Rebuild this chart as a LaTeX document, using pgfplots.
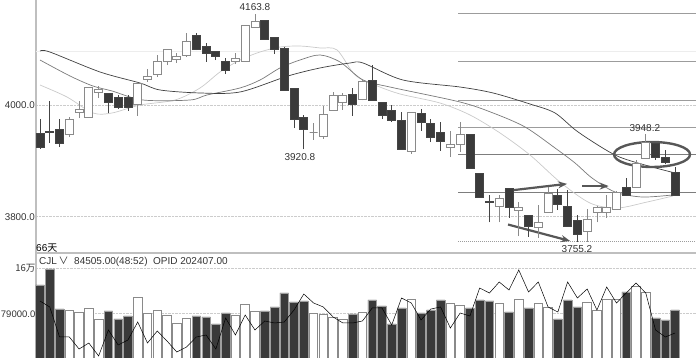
\documentclass[border=0pt]{standalone}
\usepackage{pgfplots}
\pgfplotsset{compat=1.18}
\usepackage{pgfplotstable}
\usepackage{fontspec}
\setmainfont{Liberation Sans}
\newfontfamily\cjk{Noto Sans CJK SC}
\usetikzlibrary{arrows.meta}
\definecolor{cdark}{HTML}{3A3A3A}
\definecolor{cwick}{HTML}{444444}
\definecolor{cgray}{HTML}{8A8A8A}
\definecolor{madark}{HTML}{404040}
\definecolor{mamid}{HTML}{7A7A7A}
\definecolor{malight}{HTML}{CACACA}
\definecolor{fib}{HTML}{9C9C9C}
\definecolor{anno}{HTML}{575757}
\definecolor{txt}{HTML}{333333}
\newcommand\pxs{0.55715}
\pgfdeclareplotmark{candle}{%
  \pgfpathmoveto{\pgfpoint{0pt}{\wl pt}}%
  \pgfpathlineto{\pgfpoint{0pt}{\wh pt}}%
  \pgfusepathqstroke
  \pgfpathrectangle{\pgfpoint{-4pt}{-\bh pt}}{\pgfpoint{8pt}{2*\bh pt}}%
  \pgfusepathqfillstroke}

\pgfplotstableread{
i o h l c
1 3950 3975 3922 3925
2 3953 4008 3932 3951
3 3956 3975 3925 3931
8 4022 4022 3986 4006
9 4015 4018 3993 3997
10 4015 4018 3990 3997
17 4126 4130 4099 4101
18 4105 4112 4078 4094
19 4096 4097 4081 4087
20 4078 4085 4056 4063
24 4153 4153 4119 4119
25 4121 4123 4092 4101
26 4103 4105 4026 4026
27 4031 4031 3959 3975
28 3979 3983 3920.8 3956
33 4020 4031 3981 4001
35 4044 4072 4008 4008
36 4006 4006 3975 3981
37 3990 4000 3970 3972
38 3972 3988 3920 3920
40 3986 3993 3954 3970
41 3968 3975 3934 3943
42 3952 3970 3918 3936
45 3947 3947 3886 3886
46 3878 3878 3835 3835
47 3828 3839 3790 3825
49 3850 3852 3798 3816
51 3803 3803 3764 3782
54 3839 3850 3812 3823
55 3819 3848 3782 3782
56 3794 3803 3755.2 3769
61 3852 3870 3839 3839
64 3932 3932 3902 3907
65 3907 3920 3895 3898
66 3880 3889 3839 3839
}\darkc

\pgfplotstableread{
i o h l c
4 3947 3979 3943 3974
5 3988 4008 3977 3992
6 3979 4033 3979 4033
7 4024 4035 4013 4028
11 4002 4040 3981 4040
12 4047 4065 4042 4051
13 4056 4090 4051 4078
14 4078 4101 4072 4101
15 4083 4094 4076 4087
16 4090 4130 4087 4115
21 4078 4094 4074 4085
22 4078 4144 4078 4144
23 4139 4163.8 4139 4151
29 3952 3968 3938 3952
30 3945 3999 3940 3984
31 3990 4024 3990 4018
32 4006 4022 3992 4018
34 4011 4047 4009 4042
39 3918 3988 3913 3988
43 3925 3954 3907 3930
44 3930 3970 3916 3948
48 3819 3839 3790 3832
50 3812 3826 3765 3817
52 3780 3821 3762 3789
53 3808 3853 3808 3841
57 3773 3814 3755 3796
58 3807 3819 3790 3817
59 3808 3839 3798 3817
60 3814 3846 3814 3843
62 3852 3902 3852 3896
63 3905 3948.2 3905 3934
}\whitec

\pgfplotstableread{
x y
1 4097.5
2 4095.7
7.14 4059.8
11.24 4040.0
13.28 4027.5
17.38 4022.1
21.47 4023.9
26.38 4052.6
29.66 4067.0
32.73 4075.9
34.06 4075.9
38.15 4045.4
43.99 4032.8
47.37 4022.1
51.15 4002.3
53.71 3986.2
56.07 3952.1
59.85 3910.8
62.92 3892.8
65.99 3878.5
}\maA

\pgfplotstableread{
x y
1 4081.3
4.07 4052.6
6.42 4034.6
8.37 4025.7
11.54 4009.5
16.35 4009.5
18.09 4018.5
21.47 4031.1
23.52 4045.4
25.56 4067.0
27.61 4081.3
29.66 4090.3
31.71 4077.7
34.06 4045.4
36.82 4032.8
43.99 4005.9
47.37 3986.2
50.64 3961.1
53.71 3923.4
55.76 3896.4
57.50 3869.5
59.85 3844.4
62.62 3835.4
65.69 3839.0
}\maB

\pgfplotstableread{
x y
1 4036.4
3.76 4014.9
6.42 3986.2
8.37 3986.2
11.24 4000.5
14.82 4009.5
17.38 4031.1
19.42 4059.8
21.47 4081.3
23.52 4095.7
25.56 4104.6
27.61 4106.4
29.66 4102.9
31.40 4099.3
33.24 4054.4
35.29 4036.4
37.85 4020.3
41.94 4004.1
45.01 3982.6
48.08 3950.3
51.15 3910.8
54.22 3862.3
57.29 3824.6
60.06 3815.6
63.13 3826.4
65.79 3837.2
}\maC

\pgfplotstableread{
i v
1 130670
2 159310
3 87710
8 84130
9 69810
10 75180
17 75180
18 73390
19 60860
20 80550
24 84130
25 91290
26 116350
27 100240
28 102030
33 78760
35 103820
36 93080
37 60860
38 89500
40 80550
41 85920
42 103820
45 89500
46 103820
47 102030
49 82340
51 89500
54 69810
55 103820
56 91290
61 118140
64 71600
65 68020
66 85920
}\vdark

\pgfplotstableread{
i v
4 85920
5 82340
6 89500
7 69810
11 109190
12 80550
13 85920
14 76970
15 62650
16 71600
21 76970
22 96660
23 84130
29 80550
30 78760
31 73390
32 69810
34 82340
39 105610
43 98450
44 94870
48 98450
50 105610
52 98450
53 91290
57 100240
58 85920
59 105610
60 105610
62 128880
63 118140
}\vwhite

\pgfplotstableread{
i p
1 102030
2 91290
3 37590
4 37590
5 16110
6 26850
7 3580
8 50120
9 23270
10 32220
11 64440
12 26850
13 48330
14 30430
15 10740
16 19690
17 37590
18 41170
19 16110
20 71600
21 41170
22 76970
23 50120
24 66230
25 62650
26 64440
27 85920
28 114560
29 98450
30 91290
31 73390
32 62650
33 62650
34 66230
35 89500
36 89500
37 59070
38 107400
39 98450
40 68020
41 87710
42 91290
43 53700
44 80550
45 75180
46 125300
47 116350
48 136040
49 121720
50 157520
51 118140
52 136040
53 91290
54 82340
55 136040
56 107400
57 123510
58 85920
59 127090
60 98450
61 116350
62 134250
63 116350
64 50120
65 37590
66 44750
}\oline

\begin{document}
\begin{tikzpicture}[font=\fontsize{10}{12}\selectfont]
\useasboundingbox (0pt,0pt) rectangle (696pt,358pt);
% ---------------- price panel ----------------
\begin{axis}[
  at={(36pt,105pt)}, anchor=south west,
  width=660pt, height=253pt, scale only axis,
  xmin=0.59, xmax=68.14, ymin=3734.9, ymax=4189,
  clip=false,
  axis x line*=bottom, axis y line*=left,
  axis line style={-, color=gray!50, line width=1.2pt},
  xtick=\empty,
  ytick={3800,4000}, yticklabels={3800.0,4000.0},
  extra y ticks={4096}, extra y tick labels={},
  extra y tick style={grid style={color=gray!14, solid, line width=0.8pt}},
  major tick length=0pt,
  yticklabel style={font=\fontsize{9.8}{12}\selectfont, text=txt, inner sep=1pt},
  ymajorgrids, grid style={color=gray!40, densely dotted, line width=0.8pt},
]
% fibonacci style horizontal lines
\addplot[fib, line width=1.1pt] coordinates {(43.8,4164) (68.14,4164)};
\addplot[fib, line width=1.1pt] coordinates {(43.8,4078) (68.14,4078)};
\addplot[fib, line width=1.1pt] coordinates {(43.8,4008) (68.14,4008)};
\addplot[fib, line width=1.1pt] coordinates {(43.8,3959.5) (68.14,3959.5)};
\addplot[fib!80!black, line width=1.1pt] coordinates {(43.8,3912) (68.14,3912)};
\addplot[fib!80!black, line width=1.1pt] coordinates {(43.8,3844) (68.14,3844)};
\addplot[fib, densely dotted, line width=1pt] coordinates {(43.8,3755.2) (68.14,3755.2)};
% moving averages
\addplot[malight, line width=0.7pt, smooth, tension=0.5] table[x=x,y=y]{\maC};
\addplot[mamid, line width=0.7pt, smooth, tension=0.5] table[x=x,y=y]{\maB};
\addplot[madark, line width=0.7pt, smooth, tension=0.5] table[x=x,y=y]{\maA};
% candles
\addplot[only marks, mark=candle,
  mark options={draw=cwick, fill=cdark, line width=0.8pt},
  visualization depends on={0.5*abs(\thisrow{o}-\thisrow{c})*\pxs \as \bh},
  visualization depends on={(\thisrow{h}-0.5*(\thisrow{o}+\thisrow{c}))*\pxs \as \wh},
  visualization depends on={(\thisrow{l}-0.5*(\thisrow{o}+\thisrow{c}))*\pxs \as \wl},
] table[x=i, y expr={0.5*(\thisrow{o}+\thisrow{c})}]{\darkc};
\addplot[only marks, mark=candle,
  mark options={draw=cgray, fill=white, line width=0.8pt},
  visualization depends on={0.5*abs(\thisrow{o}-\thisrow{c})*\pxs \as \bh},
  visualization depends on={(\thisrow{h}-0.5*(\thisrow{o}+\thisrow{c}))*\pxs \as \wh},
  visualization depends on={(\thisrow{l}-0.5*(\thisrow{o}+\thisrow{c}))*\pxs \as \wl},
] table[x=i, y expr={0.5*(\thisrow{o}+\thisrow{c})}]{\whitec};
% annotations
\draw[anno, line width=2.4pt] (axis cs:63.64,3911.7) ellipse [x radius=38pt, y radius=12.5pt];
\draw[anno, line width=2.2pt, -{Stealth[length=9pt,width=7pt]}] (axis cs:48.6,3846) -- (axis cs:54.94,3859);
\draw[anno, line width=2.2pt, -{Stealth[length=9pt,width=7pt]}] (axis cs:56.48,3855) -- (axis cs:59.2,3855);
\draw[anno, line width=2.2pt, -{Stealth[length=9pt,width=7pt]}] (axis cs:48.9,3786) -- (axis cs:55.25,3756.5);
\node[text=txt, inner sep=0pt] at (axis cs:23.0,4176.4) {4163.8};
\node[text=txt, inner sep=0pt] at (axis cs:27.6,3907.2) {3920.8};
\node[text=txt, inner sep=0pt] at (axis cs:62.9,3959.3) {3948.2};
\node[text=txt, inner sep=0pt] at (axis cs:55.96,3742) {3755.2};
\end{axis}
% ---------------- volume panel ----------------
\begin{axis}[
  at={(36pt,0pt)}, anchor=south west,
  width=660pt, height=105pt, scale only axis,
  xmin=0.59, xmax=68.14, ymin=0, ymax=187950,
  axis x line=none, axis y line*=left,
  axis line style={-, color=gray!50, line width=1.2pt},
  ytick={79000,160000}, yticklabels={79000.0,{\cjk 16万}},
  scaled y ticks=false,
  major tick length=0pt,
  yticklabel style={font=\fontsize{9.5}{12}\selectfont, text=txt, inner sep=0.5pt},
  ymajorgrids, grid style={color=gray!40, densely dotted, line width=0.8pt},
]
\addplot[ybar, bar width=8.6pt, bar shift=0pt, fill=cdark, draw=gray!75, line width=0.6pt] table[x=i,y=v]{\vdark};
\addplot[ybar, bar width=8.6pt, bar shift=0pt, fill=white, draw=cgray, line width=0.8pt] table[x=i,y=v]{\vwhite};
\addplot[black, line width=0.5pt] table[x=i,y=p]{\oline};
\end{axis}
\node[anchor=west, inner sep=0pt, text=black] at (36pt,110pt) {66{\cjk 天}};
\node[anchor=west, inner sep=0pt, text=txt] at (39pt,96pt) {CJL\,{\cjk ∨}\ \ 84505.00(48:52)\ \ OPID 202407.00};
\end{tikzpicture}
\end{document}
